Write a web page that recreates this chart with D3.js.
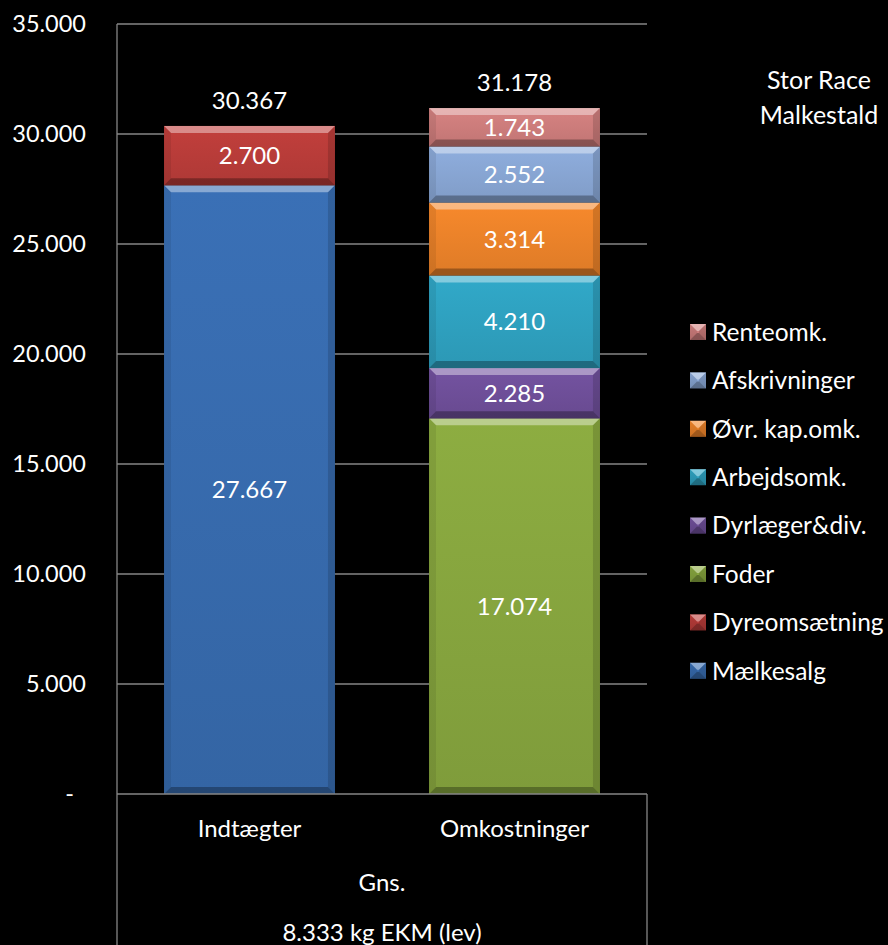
<!DOCTYPE html>
<html>
<head>
<meta charset="utf-8">
<script src="https://cdn.jsdelivr.net/npm/d3@7"></script>
<style>
  html, body { margin: 0; padding: 0; background: #000; }
  svg { display: block; font-family: Lato, "Open Sans", sans-serif; }
</style>
</head>
<body>
<div id="chart"></div>
<script>
// data
const categories = ['Indtægter', 'Omkostninger'];
const seriesNames = ['Mælkesalg', 'Dyreomsætning', 'Foder', 'Dyrlæger&div.',
  'Arbejdsomk.', 'Øvr. kap.omk.', 'Afskrivninger', 'Renteomk.'];
const indtaegter = [27667, 2700, 0, 0, 0, 0, 0, 0];
const omkostninger = [0, 0, 17074, 2285, 4210, 3314, 2552, 1743];
const yTicks = [0, 5000, 10000, 15000, 20000, 25000, 30000, 35000];
const colors = ['#386cb0', '#bb3d3a', '#88a73f', '#70509b', '#2fa3c2', '#ee842a', '#8aa8d6', '#cf7e7d'];
const title = ['Stor Race', 'Malkestald'];
const groupLabel = 'Gns.';
const groupSub = '8.333 kg EKM (lev)';

const width = 888, height = 945;
const plotLeft = 117, plotRight = 647, plotTop = 24, plotBottom = 794;
const fs = 24;

const loc = d3.formatLocale({ decimal: ',', thousands: '.', grouping: [3], currency: ['', ''] });
const fmt = v => (v === 0 ? '-' : loc.format(',.0f')(v));

const rows = categories.map((c, i) => {
  const r = { cat: c };
  seriesNames.forEach((s, j) => { r[s] = i === 0 ? indtaegter[j] : omkostninger[j]; });
  return r;
});
const stacked = d3.stack().keys(seriesNames)(rows);

const x = d3.scaleBand().domain(categories).range([plotLeft, plotRight]).paddingInner(0.355).paddingOuter(0.1775);
const y = d3.scaleLinear().domain([0, 35000]).range([plotBottom, plotTop]);

const svg = d3.select('#chart').append('svg').attr('width', width).attr('height', height);
svg.append('rect').attr('width', width).attr('height', height).attr('fill', '#000');

// gridlines
svg.append('g').selectAll('line').data(yTicks.filter(d => d > 0)).enter().append('line')
  .attr('x1', plotLeft).attr('x2', plotRight)
  .attr('y1', d => y(d)).attr('y2', d => y(d))
  .attr('stroke', '#868686').attr('stroke-width', 1.3);

// y axis labels
svg.append('g').selectAll('text').data(yTicks).enter().append('text')
  .attr('x', d => (d === 0 ? 74 : 86)).attr('y', d => y(d)).attr('dy', '0.36em')
  .attr('text-anchor', 'end').attr('fill', '#fff').attr('font-size', fs - 0.5)
  .text(fmt);

// gradient per colour
const defs = svg.append('defs');
colors.forEach((c, i) => {
  const g = defs.append('linearGradient').attr('id', 'g' + i).attr('x1', 0).attr('y1', 0).attr('x2', 0).attr('y2', 1);
  g.append('stop').attr('offset', '0%').attr('stop-color', d3.color(c).brighter(0.1));
  g.append('stop').attr('offset', '100%').attr('stop-color', d3.color(c).darker(0.2));
});

function bevel(g, x0, y0, x1, y1, i) {
  const b = Math.min(7, (y1 - y0) / 2);
  g.append('rect').attr('x', x0).attr('y', y0).attr('width', x1 - x0).attr('height', y1 - y0)
    .attr('fill', `url(#g${i})`);
  const poly = (pts, fill, op) => g.append('polygon')
    .attr('points', pts.map(p => p.join(',')).join(' ')).attr('fill', fill).attr('fill-opacity', op);
  poly([[x0, y0], [x1, y0], [x1 - b, y0 + b], [x0 + b, y0 + b]], '#fff', 0.4);
  poly([[x0, y1], [x1, y1], [x1 - b, y1 - b], [x0 + b, y1 - b]], '#000', 0.3);
  poly([[x0, y0], [x0 + b, y0 + b], [x0 + b, y1 - b], [x0, y1]], '#000', 0.08);
  poly([[x1, y0], [x1 - b, y0 + b], [x1 - b, y1 - b], [x1, y1]], '#000', 0.14);
}

// bars
const barG = svg.append('g');
stacked.forEach((layer, i) => {
  layer.forEach(d => {
    const v = d[1] - d[0];
    if (v <= 0) return;
    const x0 = x(d.data.cat), x1 = x0 + x.bandwidth();
    bevel(barG, x0, y(d[1]), x1, y(d[0]), i);
    barG.append('text')
      .attr('x', x0 + x.bandwidth() / 2).attr('y', (y(d[0]) + y(d[1])) / 2).attr('dy', '0.36em')
      .attr('text-anchor', 'middle').attr('fill', '#fff').attr('font-size', fs)
      .text(fmt(v));
  });
});

// totals
rows.forEach(r => {
  const tot = d3.sum(seriesNames, s => r[s]);
  svg.append('text')
    .attr('x', x(r.cat) + x.bandwidth() / 2).attr('y', y(tot) - 26).attr('dy', '0.36em')
    .attr('text-anchor', 'middle').attr('fill', '#fff').attr('font-size', fs)
    .text(fmt(tot));
});

// axis lines + category box
const axisColor = '#868686';
svg.append('line').attr('x1', plotLeft).attr('x2', plotLeft).attr('y1', plotTop).attr('y2', height).attr('stroke', axisColor).attr('stroke-width', 1.3);
svg.append('line').attr('x1', plotRight).attr('x2', plotRight).attr('y1', plotBottom).attr('y2', height).attr('stroke', axisColor).attr('stroke-width', 1.3);
svg.append('line').attr('x1', plotLeft).attr('x2', plotRight).attr('y1', plotBottom).attr('y2', plotBottom).attr('stroke', axisColor).attr('stroke-width', 1.5);

svg.append('g').selectAll('text').data(categories).enter().append('text')
  .attr('x', d => x(d) + x.bandwidth() / 2).attr('y', 828).attr('dy', '0.36em')
  .attr('text-anchor', 'middle').attr('fill', '#fff').attr('font-size', fs)
  .text(d => d);
svg.append('text').attr('x', (plotLeft + plotRight) / 2).attr('y', 882).attr('dy', '0.36em')
  .attr('text-anchor', 'middle').attr('fill', '#fff').attr('font-size', fs).text(groupLabel);
svg.append('text').attr('x', (plotLeft + plotRight) / 2).attr('y', 932).attr('dy', '0.36em')
  .attr('text-anchor', 'middle').attr('fill', '#fff').attr('font-size', fs).text(groupSub);

// title
svg.append('g').selectAll('text').data(title).enter().append('text')
  .attr('x', 819).attr('y', (d, i) => 80 + i * 35).attr('dy', '0.36em')
  .attr('text-anchor', 'middle').attr('fill', '#fff').attr('font-size', fs + 1)
  .text(d => d);

// legend, reversed order like the stack
const legend = svg.append('g');
seriesNames.slice().reverse().forEach((s, k) => {
  const i = seriesNames.indexOf(s);
  const ly = 332 + k * 48.4;
  bevel(legend, 690, ly - 8, 706, ly + 8, i);
  legend.append('text').attr('x', 712).attr('y', ly).attr('dy', '0.36em')
    .attr('fill', '#fff').attr('font-size', fs + 0.5).text(s);
});
</script>
</body>
</html>
